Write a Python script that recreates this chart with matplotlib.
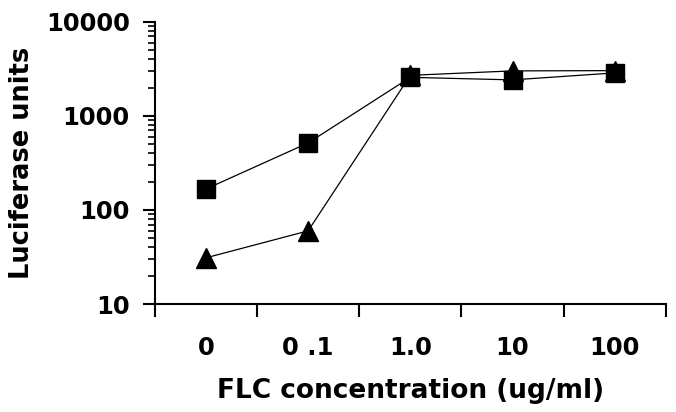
import numpy as np
import matplotlib.pyplot as plt
from matplotlib.ticker import LogLocator, NullFormatter, FixedLocator

conc_labels = ['0', '0 .1', '1.0', '10', '100']
squares = [167, 516, 2570, 2415, 2865]
triangles = [31, 60, 2700, 3010, 3030]

plt.rcParams['font.family'] = ['DejaVu Sans']
plt.rcParams['font.weight'] = 'bold'

fig = plt.figure(figsize=(6.76, 4.12), dpi=100)
ax = fig.add_axes([0.229, 0.262, 0.756, 0.685])

x = np.arange(len(conc_labels)) + 0.5
ax.plot(x, triangles, color='black', lw=0.9, marker='^', ms=14, mfc='black', mec='black')
ax.plot(x, squares, color='black', lw=0.9, marker='s', ms=13, mfc='black', mec='black')

ax.set_yscale('log')
ax.set_ylim(10, 10000)
ax.set_xlim(0, len(conc_labels))

ax.yaxis.set_minor_locator(LogLocator(base=10, subs=np.arange(2, 10), numticks=10))
ax.yaxis.set_minor_formatter(NullFormatter())
ax.set_yticks([10, 100, 1000, 10000])
ax.set_yticklabels(['10', '100', '1000', '10000'])

ax.xaxis.set_major_locator(FixedLocator(np.arange(len(conc_labels) + 1)))
ax.set_xticklabels([''] * (len(conc_labels) + 1))
ax.xaxis.set_minor_locator(FixedLocator(x))
ax.set_xticklabels(conc_labels, minor=True)
ax.tick_params(axis='x', which='minor', length=0, pad=23, labelsize=17.5)
ax.tick_params(axis='x', which='major', length=9, width=1.5, direction='out')
ax.tick_params(axis='y', which='major', length=9, width=1.5, direction='out', pad=9, labelsize=17.5)
ax.tick_params(axis='y', which='minor', length=5, width=1.2, direction='out')

for s in ['top', 'right']:
    ax.spines[s].set_visible(False)
for s in ['left', 'bottom']:
    ax.spines[s].set_linewidth(1.5)

ax.set_ylabel('Luciferase units', fontsize=18.5, fontweight='bold', labelpad=8)
ax.set_xlabel('FLC concentration (ug/ml)', fontsize=19, fontweight='bold', labelpad=13)

fig.savefig('out.png', dpi=100)
